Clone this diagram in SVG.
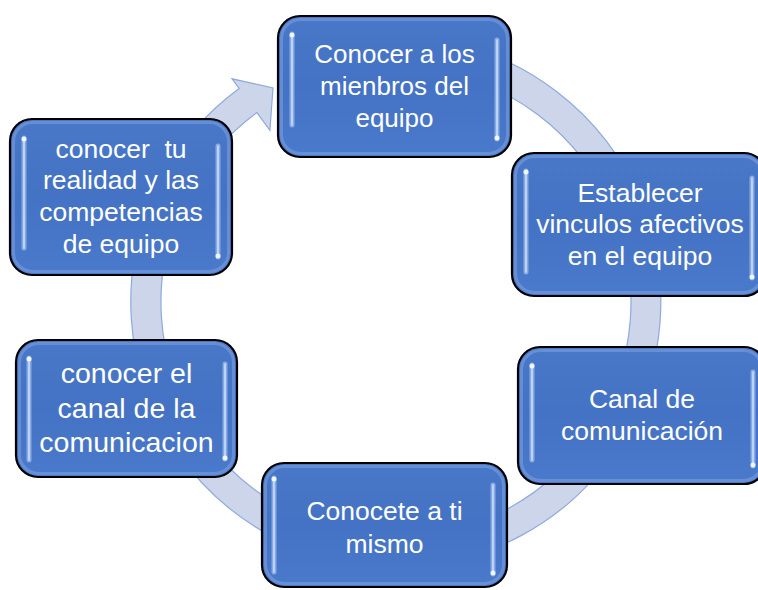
<svg xmlns="http://www.w3.org/2000/svg" width="758" height="590" viewBox="0 0 758 590">
<style>
.box{fill:url(#bg);stroke:#000;stroke-width:2.2}
.glow{fill:none;stroke:#7fa2e0;stroke-width:3;opacity:.55}
.hl{stroke:#9dbcf0;stroke-width:5;stroke-linecap:round;opacity:.75}
.hlc{stroke:#e4eefc;stroke-width:1.6;stroke-linecap:round;opacity:.75}
.dot{fill:#ffffff;opacity:.85}
.t{font-family:"Liberation Sans",Arial,sans-serif;font-size:26.5px;fill:#ffffff;text-anchor:middle;white-space:pre}
.ring{fill:#cdd5ea;stroke:#8eaadb;stroke-width:1.2}
</style>
<defs>
<linearGradient id="bg" x1="0" y1="0" x2="0" y2="1">
<stop offset="0" stop-color="#4a78c8"/>
<stop offset="0.5" stop-color="#4472c4"/>
<stop offset="1" stop-color="#4a7acb"/>
</linearGradient>
</defs>
<g id="connectors">
<path class="ring" d="M305.4,53 A265,265 0 1 1 239.1,88.4 L232,78.8 L273,88 L269.9,130.3 L256.9,112.6 A235,235 0 1 0 315.6,81.2 Z"/>
</g>
<g id="node1">
<rect class="box" x="278" y="16" width="233" height="141" rx="22"/>
<rect class="glow" x="281.5" y="19.5" width="226" height="134" rx="19"/>
<line class="hl" x1="292" y1="34" x2="292" y2="125"/><line class="hlc" x1="292" y1="34" x2="292" y2="125"/><circle class="dot" cx="292" cy="35" r="2.5"/>
<line class="hl" x1="497" y1="40" x2="497" y2="139"/><line class="hlc" x1="497" y1="40" x2="497" y2="139"/><circle class="dot" cx="497" cy="138" r="2.5"/>
<text class="t" style="font-size:26px"><tspan x="394.5" y="63">Conocer a los</tspan><tspan x="394.5" y="95">mienbros del</tspan><tspan x="394.5" y="127">equipo</tspan></text>
</g>
<g id="node2">
<rect class="box" x="10" y="119" width="222" height="156" rx="22"/>
<rect class="glow" x="13.5" y="122.5" width="215" height="149" rx="19"/>
<line class="hl" x1="24" y1="138" x2="24" y2="248"/><line class="hlc" x1="24" y1="138" x2="24" y2="248"/><circle class="dot" cx="24" cy="139" r="2.5"/>
<line class="hl" x1="218" y1="146" x2="218" y2="257"/><line class="hlc" x1="218" y1="146" x2="218" y2="257"/><circle class="dot" cx="218" cy="256" r="2.5"/>
<text class="t" xml:space="preserve"><tspan x="121" y="158">conocer  tu</tspan><tspan x="121" y="189">realidad y las</tspan><tspan x="121" y="221">competencias</tspan><tspan x="121" y="253">de equipo</tspan></text>
</g>
<g id="node3">
<rect class="box" x="512" y="153" width="254" height="143" rx="22"/>
<rect class="glow" x="515.5" y="156.5" width="247" height="136" rx="19"/>
<line class="hl" x1="526" y1="171" x2="526" y2="272"/><line class="hlc" x1="526" y1="171" x2="526" y2="272"/><circle class="dot" cx="526" cy="172" r="2.5"/>
<line class="hl" x1="752" y1="178" x2="752" y2="278"/><line class="hlc" x1="752" y1="178" x2="752" y2="278"/><circle class="dot" cx="752" cy="277" r="2.5"/>
<text class="t"><tspan x="640" y="202">Establecer</tspan><tspan x="640" y="233">vinculos afectivos</tspan><tspan x="640" y="265">en el equipo</tspan></text>
</g>
<g id="node4">
<rect class="box" x="16" y="340" width="221" height="137" rx="22"/>
<rect class="glow" x="19.5" y="343.5" width="214" height="130" rx="19"/>
<line class="hl" x1="29" y1="358" x2="29" y2="460"/><line class="hlc" x1="29" y1="358" x2="29" y2="460"/><circle class="dot" cx="29" cy="359" r="2.5"/>
<line class="hl" x1="225" y1="364" x2="225" y2="459"/><line class="hlc" x1="225" y1="364" x2="225" y2="459"/><circle class="dot" cx="225" cy="458" r="2.5"/>
<text class="t" style="font-size:28.5px"><tspan x="126.5" y="383">conocer el</tspan><tspan x="126.5" y="418">canal de la</tspan><tspan x="126.5" y="452">comunicacion</tspan></text>
</g>
<g id="node5">
<rect class="box" x="262" y="463" width="245" height="124" rx="22"/>
<rect class="glow" x="265.5" y="466.5" width="238" height="117" rx="19"/>
<line class="hl" x1="274" y1="478" x2="274" y2="572"/><line class="hlc" x1="274" y1="478" x2="274" y2="572"/><circle class="dot" cx="274" cy="479" r="2.5"/>
<line class="hl" x1="493" y1="485" x2="493" y2="574"/><line class="hlc" x1="493" y1="485" x2="493" y2="574"/><circle class="dot" cx="493" cy="573" r="2.5"/>
<text class="t"><tspan x="384.5" y="520">Conocete a ti</tspan><tspan x="384.5" y="553">mismo</tspan></text>
</g>
<g id="node6">
<rect class="box" x="518" y="347" width="248" height="137" rx="22"/>
<rect class="glow" x="521.5" y="350.5" width="241" height="130" rx="19"/>
<line class="hl" x1="532" y1="365" x2="532" y2="460"/><line class="hlc" x1="532" y1="365" x2="532" y2="460"/><circle class="dot" cx="532" cy="366" r="2.5"/>
<line class="hl" x1="753" y1="372" x2="753" y2="466"/><line class="hlc" x1="753" y1="372" x2="753" y2="466"/><circle class="dot" cx="753" cy="465" r="2.5"/>
<text class="t"><tspan x="642" y="408">Canal de</tspan><tspan x="642" y="440">comunicación</tspan></text>
</g>
</svg>
